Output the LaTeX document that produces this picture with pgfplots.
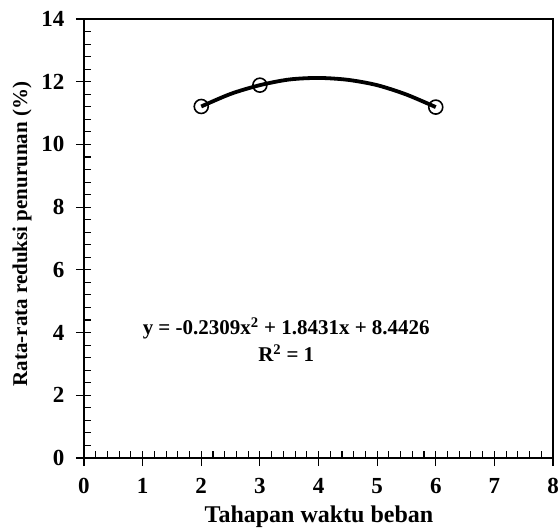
\documentclass[border=0pt]{standalone}
\usepackage{fontspec}
\setmainfont{Liberation Serif}
\usepackage{pgfplots}
\pgfplotsset{compat=1.18}

\begin{document}
\begin{tikzpicture}
  \useasboundingbox (-84pt,-71pt) rectangle (475pt,458pt);
  \begin{axis}[
    at = {(0,0)}, anchor = south west,
    scale only axis,
    width  = 469pt,
    height = 439pt,
    xmin = 0, xmax = 8,
    ymin = 0, ymax = 14,
    xtick = {0,1,...,8},
    ytick = {0,2,...,14},
    minor tick num = 4,
    xtick pos = bottom,
    ytick pos = left,
    tick align = inside,
    major tick length = 7pt,
    minor tick length = 7pt,
    extra x ticks = {0,1,...,8},
    extra y ticks = {0,2,...,14},
    extra x tick labels = {},
    extra y tick labels = {},
    extra tick style = {tick align=outside, major tick length=8pt},
    axis line style = {line width=1.2pt},
    every tick/.style = {black, line width=1.1pt},
    /pgf/number format/assume math mode=true,
    ticklabel style = {font=\fontsize{23}{23}\selectfont\bfseries},
    xticklabel style = {yshift=-17pt},
    yticklabel style = {xshift=-16pt},
    xlabel = {Tahapan waktu beban},
    ylabel = {Rata-rata reduksi penurunan (\%)},
    xlabel style = {font=\fontsize{24}{24}\selectfont\bfseries,
      at={(axis description cs:0.501,-0.134)}, anchor=center},
    ylabel style = {font=\fontsize{21}{21}\selectfont\bfseries,
      at={(axis description cs:-0.132,0.51)}, anchor=center},
  ]
    % polynomial trend line (order 2)
    \addplot[black, line width=3.8pt, smooth] coordinates {
      (2.0, 11.21) (2.5, 11.61) (3.0, 11.89) (3.5, 12.07) (4.0, 12.12)
      (4.5, 12.06) (5.0, 11.89) (5.5, 11.59) (6.0, 11.19)
    };
    % measured points
    \addplot[only marks, mark=o, mark size=7pt, black, line width=1.6pt] coordinates {
      (2, 11.21) (3, 11.89) (6, 11.19)
    };
    \node[font=\fontsize{21}{27}\selectfont\bfseries, align=center] at (axis cs:3.45, 3.78)
      {y = -0.2309x\textsuperscript{2} + 1.8431x + 8.4426\\R\textsuperscript{2} = 1};
  \end{axis}
\end{tikzpicture}
\end{document}
